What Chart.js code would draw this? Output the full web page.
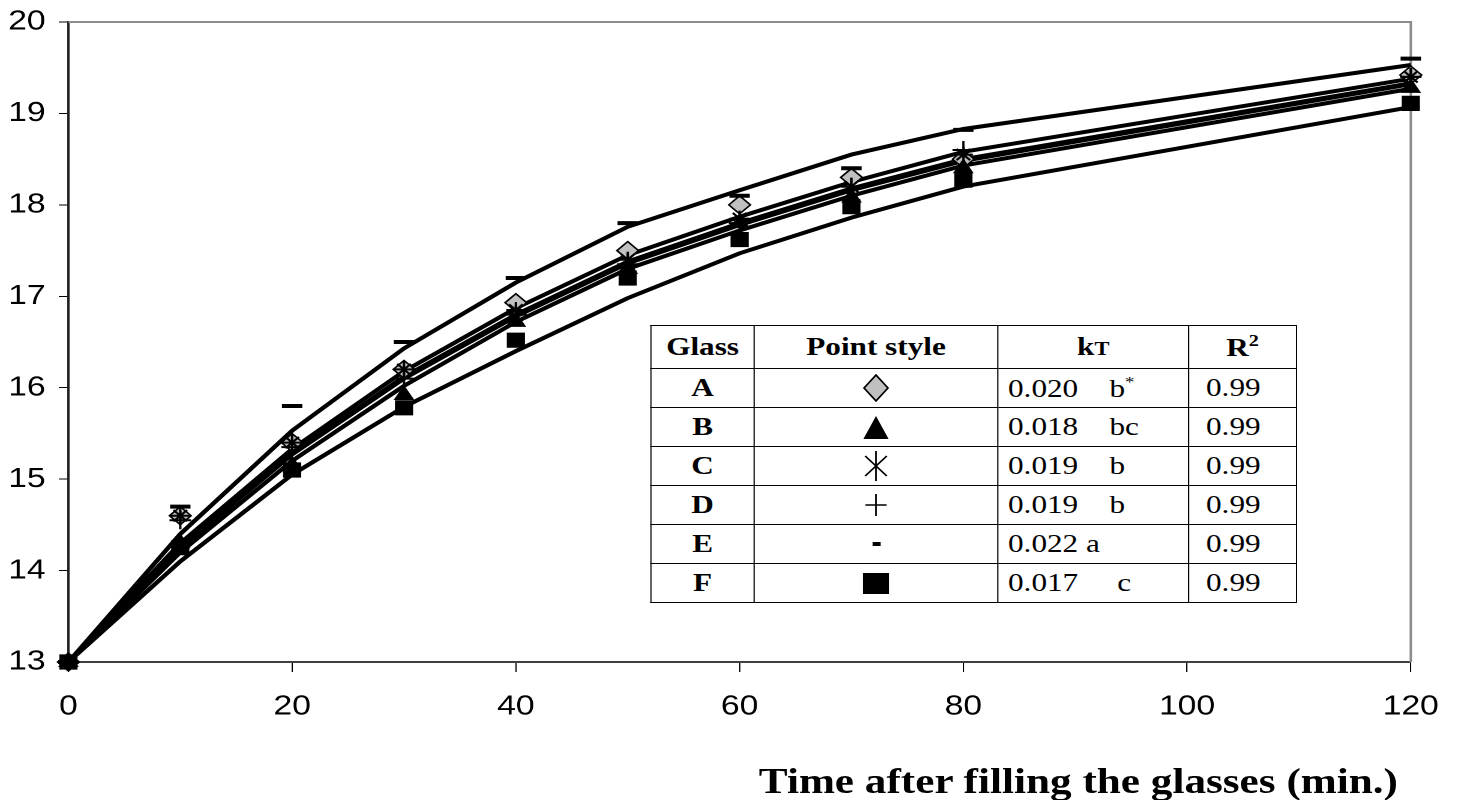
<!DOCTYPE html>
<html>
<head>
<meta charset="utf-8">
<script src="https://cdn.jsdelivr.net/npm/chart.js@4.4.1/dist/chart.umd.min.js"></script>
<style>
  html, body { margin:0; padding:0; background:#fff; overflow:hidden }
  #wrap { position:absolute; left:0; top:0; width:1217px; height:800px; transform:scaleX(1.2); transform-origin:0 0 }
  #tbl { position:absolute; left:542px; top:325px; border-collapse:collapse; font-family:'Liberation Serif','Times New Roman',serif; font-size:26px; color:#000; background:#fff }
  #tbl td, #tbl th { border:1.5px solid #000; padding:0; height:38px; line-height:1; vertical-align:middle }
  #tbl th { height:42px; font-weight:bold; text-align:center }
  #tbl td.g { font-weight:bold; text-align:center }
  #tbl td.s { text-align:center }
  #tbl td.s svg { display:block; margin:0 auto }
  #tbl td.k { text-align:left; padding-left:8px; white-space:pre }
  #tbl td.r { text-align:left; padding-left:14px }
  #xtitle { position:absolute; right:52px; top:763px; font-family:'Liberation Serif','Times New Roman',serif; font-size:36px; line-height:36px; font-weight:bold; color:#000; white-space:nowrap }
</style>
</head>
<body>
<div id="wrap">
  <canvas id="chart" width="1217" height="800"></canvas>
  <table id="tbl"><thead></thead><tbody></tbody></table>
  <div id="xtitle">Time after filling the glasses (min.)</div>
</div>
<script>
// time after filling (min.)
const times = [0, 10, 20, 30, 40, 50, 60, 70, 80, 120]

// measured temperatures (markers)
const obsA = [13, 14.6, 15.4, 16.2, 16.93, 17.5, 18.0, 18.3, 18.5, 19.42]
const obsB = [13, 14.3, 15.15, 15.92, 16.72, 17.3, 17.8, 18.08, 18.4, 19.28]
const obsC = [13, 14.6, 15.4, 16.2, 16.85, 17.4, 17.85, 18.2, 18.55, 19.4]
const obsD = [13, 14.55, 15.35, 16.1, 16.8, 17.35, 17.8, 18.2, 18.6, 19.4]
const obsE = [13, 14.7, 15.8, 16.5, 17.2, 17.8, 18.1, 18.4, 18.82, 19.6]
const obsF = [13, 14.25, 15.1, 15.78, 16.52, 17.2, 17.62, 17.98, 18.27, 19.11]

// fitted curves (lines)
const fitA = [13, 14.3, 15.33, 16.18, 16.87, 17.45, 17.87, 18.25, 18.58, 19.38]
const fitB = [13, 14.2, 15.2, 16.02, 16.72, 17.3, 17.72, 18.1, 18.43, 19.27]
const fitC = [13, 14.26, 15.28, 16.12, 16.8, 17.38, 17.8, 18.18, 18.5, 19.33]
const fitD = [13, 14.25, 15.27, 16.1, 16.78, 17.36, 17.78, 18.16, 18.48, 19.32]
const fitE = [13, 14.4, 15.53, 16.43, 17.15, 17.76, 18.16, 18.55, 18.83, 19.53]
const fitF = [13, 14.1, 15.05, 15.79, 16.4, 16.98, 17.47, 17.86, 18.2, 19.07]

// table
const glasses = ['A', 'B', 'C', 'D', 'E', 'F']
const kValues = ['0.020', '0.018', '0.019', '0.019', '0.022', '0.017']
const kGroups = ['    b', '    bc', '    b', '    b', ' a', '     c']
const r2Values = ['0.99', '0.99', '0.99', '0.99', '0.99', '0.99']

const obs = { A:obsA, B:obsB, C:obsC, D:obsD, E:obsE, F:obsF }
const fit = { A:fitA, B:fitB, C:fitC, D:fitD, E:fitE, F:fitF }

// later glasses sit on top, as in the original
const MARK = {
  A: { pointStyle:'rectRot',  radius:9,   backgroundColor:'#c0c0c0', borderWidth:1.5, order:1.6 },
  B: { pointStyle:'triangle', radius:9,   backgroundColor:'#000',    borderWidth:1,   order:1.5 },
  C: { pointStyle:'star',     radius:8,   backgroundColor:'#000',    borderWidth:2,   order:1.4 },
  D: { pointStyle:'cross',    radius:9,   backgroundColor:'#000',    borderWidth:2,   order:1.3 },
  E: { pointStyle:'line',     radius:8.5, backgroundColor:'#000',    borderWidth:4,   order:1.2 },
  F: { pointStyle:'rect',     radius:10,  backgroundColor:'#000',    borderWidth:1,   order:1.1 },
}

const SYM = {
  A: '<svg width="22" height="28"><polygon points="11,1 21,14 11,27 1,14" fill="#c0c0c0" stroke="#000" stroke-width="1.5"/></svg>',
  B: '<svg width="22" height="25"><polygon points="11,1 21.5,24 0.5,24" fill="#000"/></svg>',
  C: '<svg width="20" height="30"><g stroke="#000" stroke-width="1.5"><line x1="10" y1="0" x2="10" y2="30"/><line x1="1" y1="5" x2="19" y2="25"/><line x1="19" y1="5" x2="1" y2="25"/></g></svg>',
  D: '<svg width="18" height="22"><g stroke="#000" stroke-width="1.5"><line x1="9" y1="0" x2="9" y2="22"/><line x1="0" y1="11" x2="18" y2="11"/></g></svg>',
  E: '<svg width="7" height="4"><rect x="0" y="0" width="7" height="4" fill="#000"/></svg>',
  F: '<svg width="22" height="21"><rect x="0" y="0" width="22" height="21" fill="#000"/></svg>',
}

const pts = arr => arr.map((v, i) => ({ x: times[i], y: v }))

const datasets = []
glasses.forEach(g => {
  datasets.push({
    label: 'fit ' + g, data: pts(fit[g]), borderColor:'#000', borderWidth:4,
    pointRadius:0, fill:false, tension:0, clip:false, order:2,
  })
  const m = MARK[g]
  datasets.push({
    label: g, data: pts(obs[g]), showLine:false, clip:false, order:m.order,
    pointStyle:m.pointStyle, pointRadius:m.radius, pointBackgroundColor:m.backgroundColor,
    pointBorderColor:'#000', pointBorderWidth:m.borderWidth,
  })
})

const frame = {
  id: 'frame',
  beforeDatasetsDraw(chart) {
    const { ctx, chartArea:a } = chart
    ctx.save()
    ctx.strokeStyle = '#8c8c8c'; ctx.lineWidth = 2
    ctx.beginPath()
    ctx.moveTo(a.left, a.top); ctx.lineTo(a.right, a.top); ctx.lineTo(a.right, a.bottom)
    ctx.stroke()
    ctx.restore()
  }
}

new Chart(document.getElementById('chart'), {
  type: 'line',
  data: { datasets },
  plugins: [frame],
  options: {
    responsive:false, animation:false, devicePixelRatio:2,
    layout: { padding: { top:22, right:41, left:0, bottom:0 } },
    plugins: { legend:{ display:false }, tooltip:{ enabled:false } },
    scales: {
      x: {
        type:'linear', min:0, max:120,
        ticks: { stepSize:20, color:'#000', padding:18, font:{ family:'Liberation Sans, Arial', size:28 } },
        grid: { drawOnChartArea:false, tickLength:10, color:'#000' },
        border: { color:'#404040', width:2 },
        afterFit: s => { s.height = 138 },
      },
      y: {
        min:13, max:20,
        ticks: { stepSize:1, color:'#000', padding:11, font:{ family:'Liberation Sans, Arial', size:28 } },
        grid: { drawOnChartArea:false, tickLength:8, color:'#000' },
        border: { color:'#202020', width:2 },
        afterFit: s => { s.width = 57; s.paddingTop = 0; s.paddingBottom = 0 },
      },
    },
  },
})

// table
document.querySelector('#tbl thead').innerHTML = `
  <tr><th style="width:85px">Glass</th><th style="width:202px">Point style</th>
  <th style="width:158px">k<span style="font-size:0.72em">T</span></th><th style="width:89px">R<sup style="font-size:0.65em">2</sup></th></tr>`
document.querySelector('#tbl tbody').innerHTML = glasses.map((g, i) => `
  <tr><td class="g">${g}</td><td class="s">${SYM[g]}</td>
  <td class="k">${kValues[i]}${kGroups[i]}${i === 0 ? '<sup style="font-size:0.6em">*</sup>' : ''}</td>
  <td class="r">${r2Values[i]}</td></tr>`).join('')
</script>
</body>
</html>
